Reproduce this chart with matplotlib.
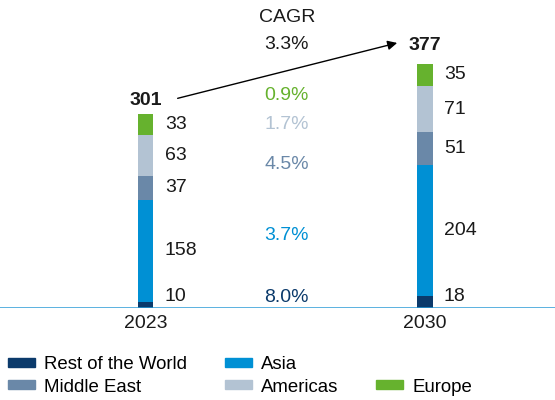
import matplotlib
matplotlib.use('Agg')
import matplotlib.pyplot as plt
from matplotlib.patches import Patch
import numpy as np

plt.rcParams['font.family'] = ['Liberation Sans', 'DejaVu Sans']

years = ['2023', '2030']
regions = ['Rest of the World', 'Asia', 'Middle East', 'Americas', 'Europe']
values_2023 = [10, 158, 37, 63, 33]
values_2030 = [18, 204, 51, 71, 35]
totals = [301, 377]
cagr_total = '3.3%'
cagr_regions = ['8.0%', '3.7%', '4.5%', '1.7%', '0.9%']

colors = ['#0b3a6b', '#0090d4', '#6a88a8', '#b3c3d3', '#66b22e']
cagr_label_y = [17, 113, 222, 284, 330]
total_offsets = [21, 30]

FS = 14.0
LFS = 13.4
fig = plt.figure(figsize=(5.55, 4.0), dpi=100)
ax = fig.add_axes([0, 92 / 400, 1, 308 / 400])
ax.set_xlim(-0.523, 1.466)
ax.set_ylim(0, 477.5)

x = np.arange(len(years))
width = 0.054
series = np.array([values_2023, values_2030])
bottoms = np.zeros(len(years))
for j, reg in enumerate(regions):
    vals = series[:, j]
    ax.bar(x, vals, width=width, bottom=bottoms, color=colors[j], linewidth=0, zorder=2)
    for i in range(len(years)):
        center = bottoms[i] + vals[i] / 2
        ax.text(x[i] + 0.068, max(center, 18), str(vals[i]), ha='left', va='center',
                fontsize=FS, color='#1a1a1a')
    bottoms += vals

for i, t in enumerate(totals):
    ax.text(x[i], t + total_offsets[i], str(t), ha='center', va='center',
            fontsize=FS, fontweight='bold', color='#1a1a1a')

ax.annotate('', xy=(0.91, totals[1] + 35), xytext=(0.104, totals[0] + 23),
            arrowprops=dict(arrowstyle='-|>', color='black', lw=1.0, mutation_scale=14))

ax.text(0.505, 451, 'CAGR', ha='center', va='center', fontsize=FS, color='#1a1a1a')
ax.text(0.505, 408, cagr_total, ha='center', va='center', fontsize=FS, color='#1a1a1a')
for j, lab in enumerate(cagr_regions):
    ax.text(0.505, cagr_label_y[j], lab, ha='center', va='center', fontsize=FS, color=colors[j])

ax.axhline(0, color='#2a9ad6', lw=1.8, zorder=3)
for s in ax.spines.values():
    s.set_visible(False)
ax.set_xticks(x, years)
ax.set_yticks([])
ax.tick_params(axis='x', length=0, pad=5, labelsize=FS, labelcolor='#1a1a1a')

handles = [Patch(color=colors[0], label=regions[0]),
           Patch(color=colors[2], label=regions[2]),
           Patch(color=colors[1], label=regions[1]),
           Patch(color=colors[3], label=regions[3]),
           Patch(color='none', label=''),
           Patch(color=colors[4], label=regions[4])]
fig.legend(handles=handles, loc='upper left', bbox_to_anchor=(0.0144, 0.11), ncol=3,
           frameon=False, fontsize=LFS, borderpad=0, borderaxespad=0,
           handlelength=1.46, handleheight=0.38, handletextpad=0.5,
           columnspacing=2.0, labelspacing=0.3)

fig.savefig('out.png', dpi=100)
